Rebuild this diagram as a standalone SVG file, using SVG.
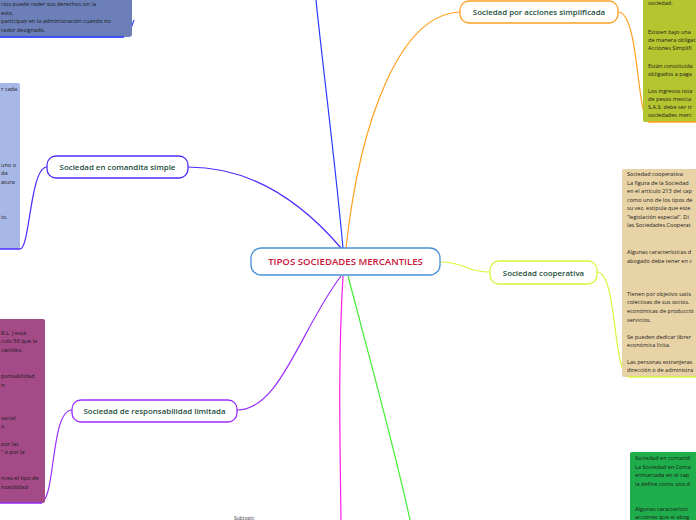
<svg xmlns="http://www.w3.org/2000/svg" width="696" height="520" viewBox="0 0 696 520">
<style>
.node{fill:#fff;stroke-width:1.3}
.nt{font-family:"Open Sans",sans-serif;font-size:7.9px;font-weight:600;fill:#1e4d3a;text-anchor:middle}
.bt{font-family:"Open Sans",sans-serif;font-size:5.6px;fill:#1b1b1b}
.c{fill:none;stroke-width:1.2}
</style>
<rect width="696" height="520" fill="#fff"/>
<g id="connectors">
<path class="c" stroke="#2a3cff" d="M343,248 C335,160 322,60 316,0"/>
<path class="c" stroke="#4a2cff" d="M341,248 C300,200 250,167 188,167"/>
<path class="c" stroke="#4a2cff" d="M47,167 C30,167 30,249 20,249"/>
<path class="c" stroke="#ffa020" d="M346,248 C360,120 400,14 460,12"/>
<path class="c" stroke="#ffa020" d="M618,12 C640,12 636,122 650,122"/>
<path class="c" stroke="#d8f53c" d="M440,262 C465,262 465,272 490,272"/>
<path class="c" stroke="#d8f53c" d="M597,272 C618,272 612,377 630,377"/>
<path class="c" stroke="#9a2cff" d="M341,276 C300,330 280,410 237,410"/>
<path class="c" stroke="#9a2cff" d="M72,410 C50,410 56,503 40,503"/>
<path class="c" stroke="#ff1ee6" d="M343,276 C338,360 340,440 341,520"/>
<path class="c" stroke="#44ee33" d="M348,276 C370,360 395,450 410,520"/>
<path class="c" stroke="#2a3cff" d="M0,37 L120,37 C130,37 130,30 134,20"/>
</g>
<g id="box-top-left">
<rect x="-5" y="-5" width="137" height="42" rx="3" fill="#6c7fb8"/>
<line x1="0" y1="37" x2="124" y2="37" stroke="#2a3cff" stroke-width="1.5"/>
<text class="bt" x="1" y="6">cios puede ceder sus derechos sin la</text>
<text class="bt" x="1" y="15">esto.</text>
<text class="bt" x="1" y="23">participan en la administración cuando no</text>
<text class="bt" x="1" y="32">rador designado.</text>
</g>
<g id="box-comandita">
<rect x="-5" y="83" width="25" height="166" rx="2" fill="#a8b8e6"/>
<line x1="0" y1="249" x2="20" y2="249" stroke="#4a2cff" stroke-width="1.5"/>
<text class="bt" x="1" y="91">r cada</text>
<text class="bt" x="1" y="167">uno o</text>
<text class="bt" x="1" y="175">da</text>
<text class="bt" x="1" y="184">atura</text>
<text class="bt" x="1" y="219">io,</text>
</g>
<g id="box-responsabilidad">
<rect x="-5" y="319" width="50" height="184" rx="2" fill="#a34a87"/>
<line x1="0" y1="503" x2="42" y2="503" stroke="#9a2cff" stroke-width="1.5"/>
<text class="bt" x="1" y="335">R.L. ) está</text>
<text class="bt" x="1" y="343">culo 58 que la</text>
<text class="bt" x="1" y="352">cantiles.</text>
<text class="bt" x="1" y="378">ponsabilidad</text>
<text class="bt" x="1" y="387">n:</text>
<text class="bt" x="1" y="420">social</text>
<text class="bt" x="1" y="428">s.</text>
<text class="bt" x="1" y="446">por las</text>
<text class="bt" x="1" y="454">" o por la</text>
<text class="bt" x="1" y="480">nces el tipo de</text>
<text class="bt" x="1" y="489">nsabilidad</text>
</g>
<g id="box-sas">
<rect x="643" y="-5" width="60" height="127" rx="2" fill="#b5c52f"/>
<line x1="648" y1="122" x2="696" y2="122" stroke="#ffa020" stroke-width="1.5"/>
<text class="bt" x="648" y="5">sociedad.</text>
<text class="bt" x="648" y="34">Existen bajo una</text>
<text class="bt" x="648" y="42">de manera obligat</text>
<text class="bt" x="648" y="50">Acciones Simplifi</text>
<text class="bt" x="648" y="68">Están constituida</text>
<text class="bt" x="648" y="76">obligados a paga</text>
<text class="bt" x="648" y="93">Los ingresos tota</text>
<text class="bt" x="648" y="101">de pesos mexica</text>
<text class="bt" x="648" y="109">S.A.S. debe ser tr</text>
<text class="bt" x="648" y="117">sociedades merc</text>
</g>
<g id="box-cooperativa">
<rect x="622" y="169" width="80" height="208" rx="2" fill="#e8d3a6"/>
<line x1="628" y1="377" x2="696" y2="377" stroke="#d8f53c" stroke-width="1.5"/>
<text class="bt" x="627" y="176">Sociedad cooperativa</text>
<text class="bt" x="627" y="185">La figura de la Sociedad</text>
<text class="bt" x="627" y="193">en el artículo 213 del cap</text>
<text class="bt" x="627" y="202">como uno de los tipos de</text>
<text class="bt" x="627" y="210">su vez, estipula que este</text>
<text class="bt" x="627" y="219">“legislación especial”. Di</text>
<text class="bt" x="627" y="227">las Sociedades Cooperat</text>
<text class="bt" x="627" y="254">Algunas características d</text>
<text class="bt" x="627" y="263">abogado debe tener en c</text>
<text class="bt" x="627" y="296">Tienen por objetivo satis</text>
<text class="bt" x="627" y="304">colectivas de sus socios.</text>
<text class="bt" x="627" y="313">económicas de producció</text>
<text class="bt" x="627" y="322">servicios.</text>
<text class="bt" x="627" y="339">Se pueden dedicar librer</text>
<text class="bt" x="627" y="347">económica lícita.</text>
<text class="bt" x="627" y="364">Las personas extranjeras</text>
<text class="bt" x="627" y="372">dirección o de administra</text>
</g>
<g id="box-comandita-acciones">
<rect x="630" y="452" width="70" height="72" rx="2" fill="#1fae4b"/>
<text class="bt" x="635" y="460">Sociedad en comandi</text>
<text class="bt" x="635" y="469">La Sociedad en Coma</text>
<text class="bt" x="635" y="477">enmarcada en el cap</text>
<text class="bt" x="635" y="486">la define como uno d</text>
<text class="bt" x="635" y="511">Algunas característic</text>
<text class="bt" x="635" y="519">acciones que el abog</text>
</g>
<g id="node-center">
<rect class="node" x="251" y="248" width="189" height="27" rx="10" stroke="#4a90d9"/>
<text x="345.5" y="265" font-family="'Open Sans',sans-serif" font-size="9.6px" font-weight="600" fill="#c8173a" text-anchor="middle">TIPOS SOCIEDADES MERCANTILES</text>
</g>
<g id="node-sas">
<rect class="node" x="460" y="1" width="158" height="22" rx="9" stroke="#ffa020"/>
<text class="nt" x="539" y="15">Sociedad por acciones simplificada</text>
</g>
<g id="node-comandita">
<rect class="node" x="47" y="156" width="141" height="22" rx="9" stroke="#4a2cff"/>
<text class="nt" x="117.5" y="170">Sociedad en comandita simple</text>
</g>
<g id="node-cooperativa">
<rect class="node" x="490" y="261" width="107" height="23" rx="9" stroke="#d8f53c"/>
<text class="nt" x="543.5" y="275.5">Sociedad cooperativa</text>
</g>
<g id="node-responsabilidad">
<rect class="node" x="72" y="400" width="165" height="22" rx="9" stroke="#9a2cff"/>
<text class="nt" x="154.5" y="414">Sociedad de responsabilidad limitada</text>
</g>
<text x="234" y="520" font-family="'Open Sans',sans-serif" font-size="5px" fill="#333">Subtopic</text>
</svg>
